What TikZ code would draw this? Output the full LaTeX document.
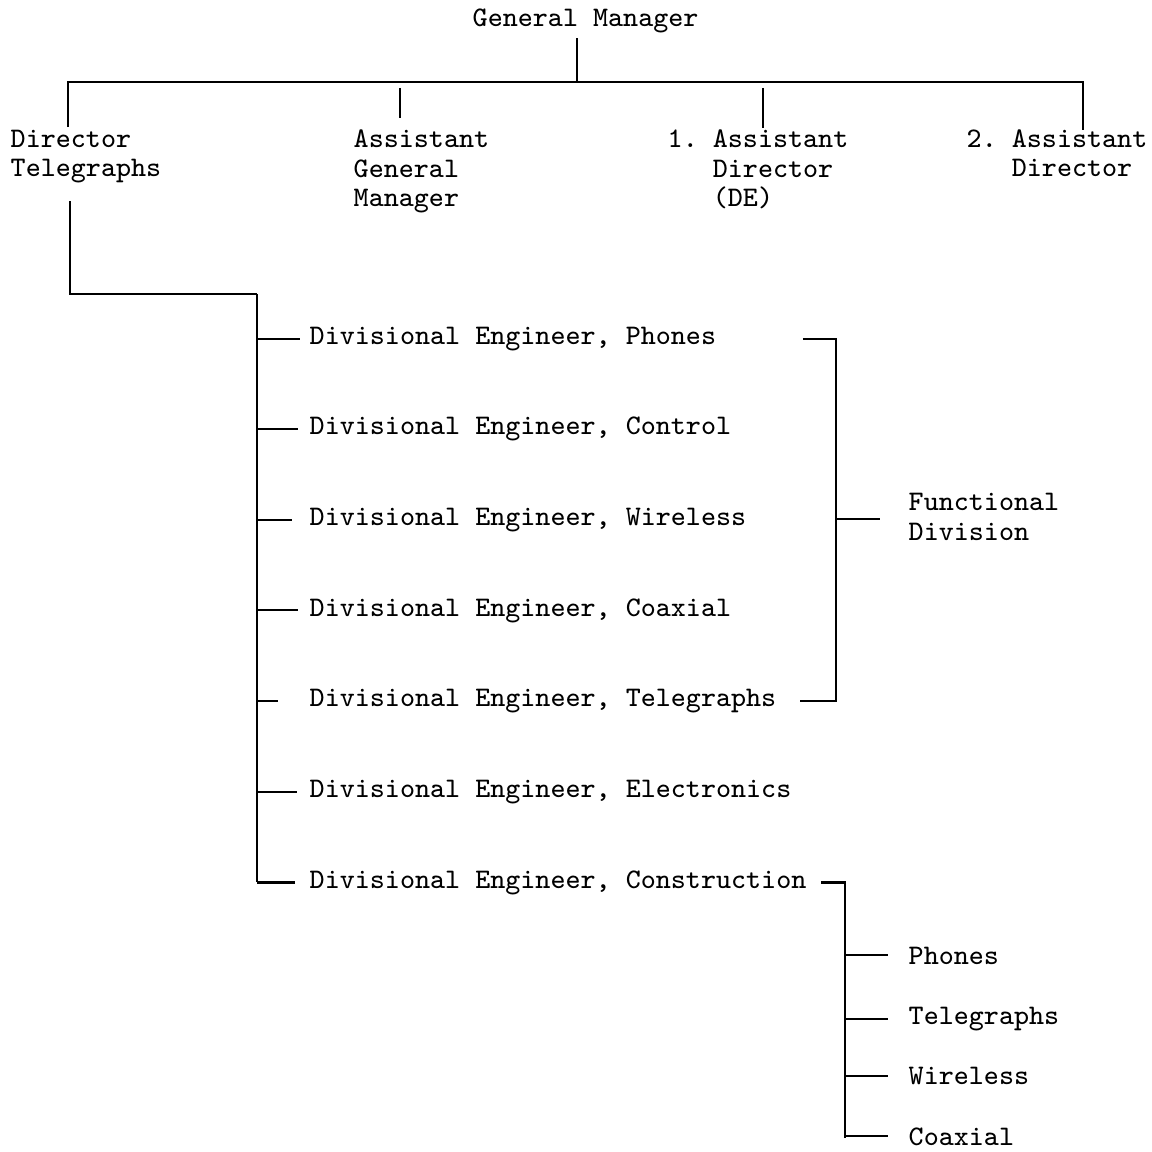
\documentclass[tikz,border=0pt]{standalone}
\usetikzlibrary{positioning}

\begin{document}
\begin{tikzpicture}[x=0.01cm,y=-0.01cm,
    lbl/.style={font=\ttfamily\frenchspacing\fontsize{8.06}{8.5}\selectfont, inner sep=0pt, anchor=base west, align=left},
    conn/.style={line width=0.6pt}]
    \useasboundingbox (0,0) rectangle (1152,1152);
    % top level (base = last line)
    \node[lbl] (gm) at (472,27) {General Manager};
    \node[lbl] (dt) at (10,177) {Director\\Telegraphs};
    \node[lbl] (agm) at (353,207) {Assistant\\General\\Manager};
    \node[lbl] (adone) at (667,207) {1. Assistant\\\hphantom{1. }Director\\\hphantom{1. }(DE)};
    \node[lbl] (adtwo) at (966,177) {2. Assistant\\\hphantom{2. }Director};
    \coordinate (jgm) at (577,82);
    \coordinate (jdt) at (68,82);
    \coordinate (jad) at (1083,82);
    \coordinate (jagm) at (400,88);
    \coordinate (jadone) at (763,88);
    \draw[conn] (jgm |- gm.south) ++(0,4) -- (jgm);
    \draw[conn] (jdt |- dt.north) ++(0,-2) -- (jdt) -- (jad) -- ++(0,48);
    \draw[conn] (jagm) -- ++(0,30);
    \draw[conn] (jadone) -- ++(0,40);
    % divisional engineers
    \coordinate (bend) at (70,294);
    \coordinate (trunk) at (257,294);
    \draw[conn] (dt.south -| bend) ++(0,17) -- (bend) -- (trunk);
    \foreach \txt/\tl [count=\i] in {Phones/43, Control/41, Wireless/35, Coaxial/41,
                                    Telegraphs/21, Electronics/40, Construction/38}{
        \node[lbl] (de\i) at (309,{344+90.67*(\i-1)}) {Divisional Engineer, \txt};
        \draw[conn] (trunk |- de\i.west) -- ++(\tl,0);
    }
    \draw[conn] (trunk) -- (trunk |- de7.west);
    % functional division bracket
    \node[lbl] (fd) at (908,540) {Functional\\Division};
    \coordinate (brk) at (836,336);
    \coordinate (brkmid) at (836,519);
    \draw[conn] (de1.east) ++(86,0) -- (brk |- de1.west) -- (brk |- de5.west) -- ++(-36,0);
    \draw[conn] (brkmid) -- ++(44,0);
    % construction sections
    \coordinate (csub) at (845,880);
    \draw[conn] (de7.east) ++(14,0) -- (csub |- de7.west) -- ++(0,256);
    \foreach \txt [count=\i] in {Phones, Telegraphs, Wireless, Coaxial}{
        \node[lbl] (cs\i) at (908,{964+60.33*(\i-1)}) {\txt};
        \draw[conn] (csub |- cs\i.west) -- ++(43,0);
    }
\end{tikzpicture}
\end{document}
